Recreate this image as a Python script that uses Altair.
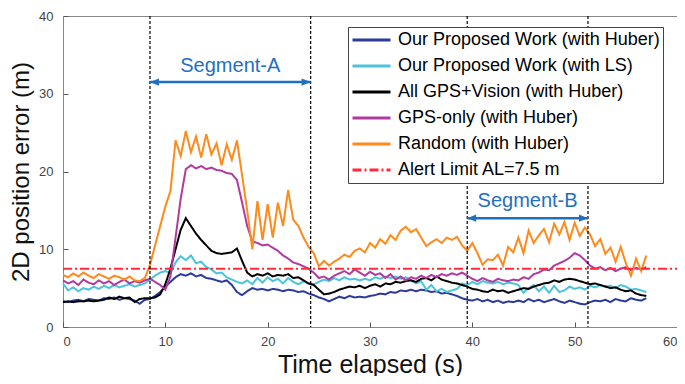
import altair as alt
import pandas as pd

# ---------------- data ----------------
step = 0.5
n_pts = 115  # samples from 0 s to 57 s
t_vals = [i * step for i in range(n_pts)]

huber = [3.3, 3.2, 3.4, 3.5, 3.3, 3.6, 3.5, 3.4, 3.7, 3.6, 3.8, 3.5, 3.7, 3.6, 3.4, 3.0, 3.5,
         3.6, 4.0, 4.5, 5.2, 5.8,
         6.4, 6.8, 6.6, 6.9, 6.5, 6.7, 6.3, 6.2, 6.0,
         5.8, 6.0, 5.4, 4.5, 4.1,
         4.6, 5.0, 4.8, 4.9, 4.7, 4.9, 4.8, 4.6, 4.8, 4.7, 4.5, 4.6, 4.3,
         4.1, 3.8, 3.6, 3.3, 3.6, 3.9, 3.7, 4.0, 3.8, 3.9,
         3.8, 4.0, 4.1, 4.3, 4.2, 4.5, 4.4, 4.7, 4.6, 4.8, 4.6, 4.8, 4.7, 4.5, 4.6, 4.3, 4.4, 4.2,
         4.0, 3.7, 3.5, 3.4, 3.6, 3.3, 3.5, 3.2, 3.4, 3.1, 3.3, 3.2,
         3.4, 3.2, 3.6, 3.3, 3.5, 3.2, 3.4, 3.6, 3.3, 3.1, 3.4, 3.2, 3.0, 2.9, 3.2, 3.4, 3.3, 3.5,
         3.2, 3.6, 3.4, 3.3, 3.7, 3.5, 3.4, 3.7]

ls = [5.6, 4.7, 5.1, 4.6, 5.0, 4.8, 5.2, 4.9, 5.3, 5.0, 5.4, 5.1, 5.3, 5.5, 5.2, 5.4, 5.6,
      6.1, 6.6, 7.0, 7.2, 6.9,
      8.3, 9.1, 8.6, 9.2, 8.2, 8.4, 7.7, 7.4, 6.9,
      7.0, 6.4, 6.1, 5.8, 5.6,
      6.0, 5.5, 6.3, 5.7, 6.4, 5.9, 6.2, 5.6, 6.3, 5.8, 5.5, 5.9, 5.6,
      5.5, 5.8, 6.1, 5.9, 6.3, 6.0, 6.4, 6.1, 6.2, 6.0,
      6.2, 6.0, 6.4, 6.2, 6.5, 6.3, 6.5, 6.2, 6.4, 6.0, 5.6, 5.9, 4.8, 5.4, 4.6, 4.9, 4.5, 4.7,
      4.9, 5.6, 5.4, 5.8, 5.5, 5.9, 5.7, 5.6, 5.8, 5.5, 5.7, 5.6,
      5.4, 4.4, 5.0, 5.4, 4.6, 5.2, 4.4, 5.3, 4.5, 4.7, 5.2, 4.9, 5.1, 4.8, 5.3, 5.1, 5.4, 5.2,
      5.3, 5.0, 5.4, 5.2, 4.8, 4.9, 4.7, 4.5]

allgps = [3.2, 3.3, 3.2, 3.3, 3.3, 3.4, 3.3, 3.4, 3.5,
          3.8, 3.6, 3.9, 3.7, 3.8, 3.2, 3.6, 3.7,
          3.7, 3.8, 4.2, 5.5, 7.5,
          10.0, 12.5, 14.0, 13.0, 12.0, 11.2, 10.5, 9.8, 9.5,
          9.4, 9.5, 9.6, 10.1,
          8.5, 7.0, 6.5, 6.8,
          6.6, 6.9, 6.5, 6.7, 6.6, 6.8, 6.3, 6.4,
          6.0, 5.6, 5.4, 4.8, 4.2, 4.3,
          4.5, 4.8, 5.0, 5.2, 5.1, 5.3,
          5.0, 5.3, 5.5, 5.2, 5.6, 5.5, 5.8, 5.7, 5.9, 6.0, 5.8, 6.2, 6.3, 6.0,
          6.5, 6.1, 5.9, 5.7, 5.6, 5.4, 5.2,
          4.9, 4.8, 4.6, 4.5, 4.8, 4.6, 4.7, 4.4, 4.6,
          4.8, 5.0, 4.9, 5.2, 5.4, 5.6, 5.7, 6.0, 5.8, 6.1, 6.2, 6.1,
          5.9, 5.7, 5.5, 5.6, 5.4, 5.2, 5.0, 5.1, 4.8, 4.6, 4.7, 4.3, 4.1, 4.0]

gps_only = [6.0, 5.6, 5.9, 5.4, 6.1, 5.7, 5.5, 6.0, 5.6, 5.9, 5.4, 5.8, 6.1, 5.6, 5.9, 5.7, 6.0,
            6.2, 5.8, 5.4, 4.8, 6.5,
            11.5, 16.5, 20.3, 20.8, 20.4, 20.7, 20.3, 20.5, 20.2,
            20.1, 19.8, 19.7, 18.9, 16.0,
            13.0, 11.0, 10.8, 10.5, 10.6, 10.2, 9.8, 9.2, 8.8, 8.3, 8.1, 7.8, 7.5,
            7.0, 6.3, 6.5, 6.1, 6.6, 6.9, 7.2, 6.8, 7.4, 7.0,
            6.6, 7.1, 6.7, 6.9, 6.3, 6.8, 6.1, 6.5, 6.0, 6.4, 6.2, 6.6, 6.3, 6.7, 6.4, 6.8, 6.6, 6.9,
            6.7, 7.0, 6.6, 6.2, 5.9, 6.3, 6.0, 5.8, 6.2, 6.0, 5.9, 6.1,
            6.0, 6.4, 6.2, 6.8, 7.0, 7.4, 7.3, 7.9, 8.2, 8.5, 8.9, 9.5, 9.2, 8.6, 7.9, 7.5, 7.7, 7.3,
            7.6, 7.2, 7.5, 7.7, 7.3, 7.6, 7.4, 7.7]

random_h = [6.7, 6.4, 6.9, 6.5, 7.0, 6.6, 6.3, 6.8, 6.5, 6.2, 6.6, 6.4, 6.1, 6.5, 6.0, 5.9, 6.3,
            8.0, 10.5, 13.0, 15.5, 17.5,
            24.0, 22.0, 25.2, 22.5, 24.5, 21.8, 24.8, 22.2, 23.6,
            20.8, 23.5, 21.5, 24.0, 19.5,
            15.0, 10.0, 16.2, 11.2, 15.8, 11.5, 16.0, 13.0, 17.6, 13.8, 13.0, 11.5, 10.3,
            9.5, 7.8, 8.5, 7.9, 8.4, 8.8, 9.3, 9.0, 9.8, 10.1,
            9.6, 10.8, 10.2, 11.3, 10.7, 11.8, 11.2, 12.4, 12.9, 12.2, 12.6, 11.5, 10.4, 10.9, 11.3, 10.8, 11.5, 11.2,
            11.6, 10.5, 9.8, 10.8, 9.5, 8.0, 8.7, 8.6, 9.3, 7.9, 10.3, 9.6,
            11.5, 9.5, 12.4, 10.8, 11.8, 12.6, 10.9, 13.3, 11.9, 13.5, 11.2, 13.4, 11.7, 12.8, 11.9, 10.4, 11.3, 9.4,
            10.2, 8.4, 10.3, 8.2, 6.6, 8.8, 7.2, 9.2]

alert_t = [0, 60]
alert_v = [7.5, 7.5]

series_names = ["Our Proposed Work (with Huber)", "Our Proposed Work (with LS)",
                "All GPS+Vision (with Huber)", "GPS-only (with Huber)",
                "Random (with Huber)", "Alert Limit AL=7.5 m"]
series_colors = ["#2b3a9c", "#4cc3dc", "#000000", "#b03a9e", "#ff8a1c", "#ff2a3a"]
series_dashes = [[1, 0], [1, 0], [1, 0], [1, 0], [1, 0], [9, 3, 2, 3]]

seg_labels = ["Segment-A", "Segment-B"]
seg_start = [8.5, 39.5]
seg_end = [24.2, 51.3]
seg_arrow_y = [31.5, 14.0]
seg_label_y = [33.6, 16.2]

# ---------------- build tables ----------------
rows = []
for name, vals in zip(series_names[:5], [huber, ls, allgps, gps_only, random_h]):
    assert len(vals) == n_pts, (name, len(vals))
    for t, v in zip(t_vals, vals):
        rows.append({"series": name, "t": t, "v": v})
for t, v in zip(alert_t, alert_v):
    rows.append({"series": series_names[5], "t": t, "v": v})
df = pd.DataFrame(rows)

bounds = pd.DataFrame({"x": seg_start + seg_end})
seg = pd.DataFrame({"label": seg_labels, "start": seg_start, "end": seg_end,
                    "ay": seg_arrow_y, "ly": seg_label_y,
                    "mid": [(a + b) / 2 for a, b in zip(seg_start, seg_end)]})

FONT = "Liberation Sans"
W, H = 614, 311

xscale = alt.Scale(domain=[0, 60], nice=False)
yscale = alt.Scale(domain=[0, 40], nice=False)

xaxis = alt.Axis(values=[0, 10, 20, 30, 40, 50, 60], title="Time elapsed (s)",
                 titleFontSize=25, titleFont=FONT, titleFontWeight="normal", titleColor="#111",
                 titleX=W / 2, titleY=42, titleBaseline="middle", titleAlign="center",
                 labelFontSize=13, labelFont=FONT, labelColor="#444", labelPadding=8,
                 labelFlush=True, labelOverlap=False,
                 tickSize=5, tickColor="#555", offset=-5, domain=False, grid=False)
yaxis = alt.Axis(values=[0, 5, 10, 15, 20, 25, 30, 35, 40], title="2D position error (m)",
                 titleFontSize=24, titleFont=FONT, titleFontWeight="normal", titleColor="#111",
                 titleX=-47, titleY=H / 2, titleAngle=270, titleBaseline="middle", titleAlign="center",
                 labelFontSize=13, labelFont=FONT, labelColor="#444", labelPadding=10,
                 labelFlush=False, labelOverlap=False,
                 tickSize=5, tickColor="#555", offset=-5, domain=False, grid=False)

legend = alt.Legend(title=None, orient="none", legendX=285, legendY=11,
                    fillColor="white", strokeColor="#444", padding=3,
                    symbolType="stroke", symbolSize=1444, symbolStrokeWidth=3,
                    labelFontSize=18, labelFont=FONT, labelColor="black",
                    labelOffset=6, labelLimit=400, rowPadding=6, clipHeight=20)

lines = alt.Chart(df).mark_line(strokeWidth=2).encode(
    x=alt.X("t:Q", scale=xscale, axis=xaxis),
    y=alt.Y("v:Q", scale=yscale, axis=yaxis),
    color=alt.Color("series:N", scale=alt.Scale(domain=series_names, range=series_colors), legend=legend),
    strokeDash=alt.StrokeDash("series:N", scale=alt.Scale(domain=series_names, range=series_dashes), legend=legend),
)

vlines = alt.Chart(bounds).mark_rule(color="black", strokeWidth=1.2, strokeDash=[3, 2]).encode(
    x=alt.X("x:Q", scale=xscale)
)

seg_color = "#1f70c1"
shafts = alt.Chart(seg).mark_rule(color=seg_color, strokeWidth=2.5).encode(
    x=alt.X("start:Q", scale=xscale), x2="end:Q", y=alt.Y("ay:Q", scale=yscale)
)
head_l = alt.Chart(seg).mark_point(shape="M0,0L2,-0.8L2,0.8Z", filled=True, size=81,
                                   color=seg_color, opacity=1).encode(
    x=alt.X("start:Q", scale=xscale), y=alt.Y("ay:Q", scale=yscale)
)
head_r = alt.Chart(seg).mark_point(shape="M0,0L-2,-0.8L-2,0.8Z", filled=True, size=81,
                                   color=seg_color, opacity=1).encode(
    x=alt.X("end:Q", scale=xscale), y=alt.Y("ay:Q", scale=yscale)
)
seg_text = alt.Chart(seg).mark_text(fontSize=20, font=FONT, color=seg_color, baseline="middle").encode(
    x=alt.X("mid:Q", scale=xscale), y=alt.Y("ly:Q", scale=yscale), text="label:N"
)

chart = alt.layer(lines, vlines, shafts, head_l, head_r, seg_text).properties(
    width=W, height=H,
    autosize=alt.AutoSizeParams(type="none"),
    padding={"left": 55, "top": 8, "right": 0, "bottom": 49},
    background="white",
).configure_view(stroke="#888", strokeWidth=1)

chart.save("out.html", embed_options={"renderer": "svg", "actions": False})
